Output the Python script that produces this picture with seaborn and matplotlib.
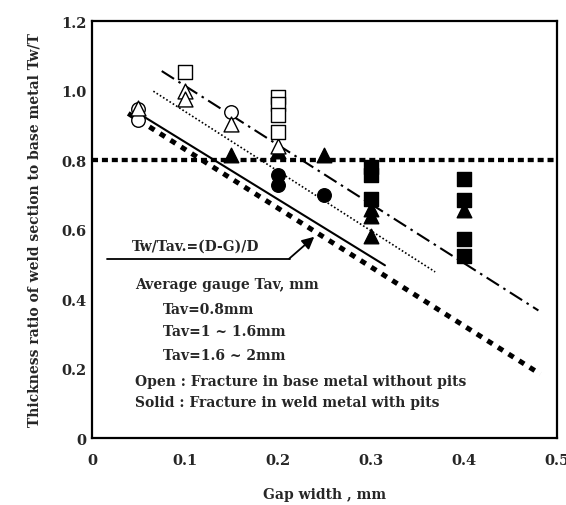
import matplotlib
matplotlib.use("Agg")
import matplotlib.pyplot as plt
import seaborn as sns
import pandas as pd

sns.set_theme(style="white")
plt.rcParams['font.family'] = ['DejaVu Serif']
plt.rcParams['font.weight'] = 'bold'

# ---- data ----
open_circle_x = [0.05, 0.05, 0.15]
open_circle_y = [0.948, 0.914, 0.939]
open_tri_x = [0.05, 0.10, 0.10, 0.15, 0.20]
open_tri_y = [0.951, 1.00, 0.977, 0.905, 0.84]
open_sq_x = [0.10, 0.20, 0.20, 0.20, 0.20]
open_sq_y = [1.054, 0.982, 0.962, 0.929, 0.881]

solid_circle_x = [0.20, 0.20, 0.25]
solid_circle_y = [0.756, 0.727, 0.698]
solid_tri_x = [0.15, 0.20, 0.25, 0.30, 0.30, 0.30, 0.40]
solid_tri_y = [0.814, 0.825, 0.814, 0.66, 0.64, 0.58, 0.655]
solid_sq_x = [0.30, 0.30, 0.30, 0.40, 0.40, 0.40, 0.40]
solid_sq_y = [0.78, 0.758, 0.689, 0.746, 0.684, 0.573, 0.525]

# reference lines (end points)
theory_x = [0.039, 0.482]
theory_y = [0.934, 0.184]
solid_line_x = [0.052, 0.315]
solid_line_y = [0.931, 0.497]
dotted_line_x = [0.066, 0.369]
dotted_line_y = [0.998, 0.478]
dashdot_line_x = [0.075, 0.480]
dashdot_line_y = [1.056, 0.367]
hline_x = [0.0, 0.5]
hline_y = [0.8, 0.8]

xticks = [0, 0.1, 0.2, 0.3, 0.4, 0.5]
xtick_labels = ["0", "0.1", "0.2", "0.3", "0.4", "0.5"]
yticks = [0, 0.2, 0.4, 0.6, 0.8, 1.0, 1.2]
ytick_labels = ["0", "0.2", "0.4", "0.6", "0.8", "1.0", "1.2"]

legend_lines = ["Average gauge Tav, mm", "Tav=0.8mm", "Tav=1 ~ 1.6mm",
                "Tav=1.6 ~ 2mm", "Open : Fracture in base metal without pits",
                "Solid : Fracture in weld metal with pits"]
legend_x = [0.046, 0.076, 0.076, 0.076, 0.046, 0.046]
legend_y = [0.444, 0.372, 0.308, 0.239, 0.164, 0.104]

fig = plt.figure(figsize=(5.66, 5.06), dpi=100)
ax = fig.add_axes([0.1625, 0.1324, 0.8216, 0.8241])

# lines
ax.plot(hline_x, hline_y, color='black', lw=3.1, linestyle=(0, (1.4, 0.9)), zorder=2)
ax.plot(theory_x, theory_y, color='black', lw=3.6, linestyle=(0, (1.2, 1.3)), zorder=2)
ax.plot(solid_line_x, solid_line_y, color='black', lw=1.5, zorder=2)
ax.plot(dotted_line_x, dotted_line_y, color='black', lw=1.2, linestyle=(0, (1, 1.3)), zorder=2)
ax.plot(dashdot_line_x, dashdot_line_y, color='black', lw=1.5,
        linestyle=(0, (7, 2.5, 1.2, 2.5)), zorder=2)

ms = 95
def pts(x, y, marker, face, size=ms):
    df = pd.DataFrame({"x": x, "y": y})
    sns.scatterplot(data=df, x="x", y="y", marker=marker, s=size, color=face,
                    edgecolor='black', linewidth=1.0, ax=ax, zorder=4, legend=False)

pts(solid_tri_x, solid_tri_y, '^', 'black', 110)
pts(solid_circle_x, solid_circle_y, 'o', 'black')
pts(solid_sq_x, solid_sq_y, 's', 'black')
pts(open_circle_x, open_circle_y, 'o', 'white')
pts(open_tri_x, open_tri_y, '^', 'white', 115)
pts(open_sq_x, open_sq_y, 's', 'white')

# annotation
ax.plot([0.016, 0.213], [0.516, 0.516], color='black', lw=1.3, zorder=3)
ax.annotate("", xy=(0.239, 0.579), xytext=(0.212, 0.516),
            arrowprops=dict(arrowstyle='-|>', color='black', lw=1.3,
                            mutation_scale=18, shrinkA=0, shrinkB=0), zorder=3)
ax.text(0.043, 0.553, "Tw/Tav.=(D-G)/D", fontsize=10, fontweight='bold',
        ha='left', va='center')
for t, x, y in zip(legend_lines, legend_x, legend_y):
    ax.text(x, y, t, fontsize=10, fontweight='bold', ha='left', va='center')

ax.set_xlim(0, 0.5)
ax.set_ylim(0, 1.2)
ax.set_xticks(xticks)
ax.set_xticklabels(xtick_labels)
ax.set_yticks(yticks)
ax.set_yticklabels(ytick_labels)
ax.tick_params(direction='in', length=5, width=1.2, labelsize=10.5, color='black',
               pad=4)
ax.tick_params(axis='x', pad=11)
for lab in ax.get_xticklabels() + ax.get_yticklabels():
    lab.set_fontweight('bold')
for s in ax.spines.values():
    s.set_color('black')
    s.set_linewidth(1.6)
    s.set_visible(True)
ax.set_xlabel("Gap width , mm", fontsize=10, fontweight='bold', labelpad=14)
ax.set_ylabel("Thickness ratio of weld section to base metal Tw/T", fontsize=10,
              fontweight='bold', labelpad=14)
ax.grid(False)

fig.savefig("out.png", dpi=100)
